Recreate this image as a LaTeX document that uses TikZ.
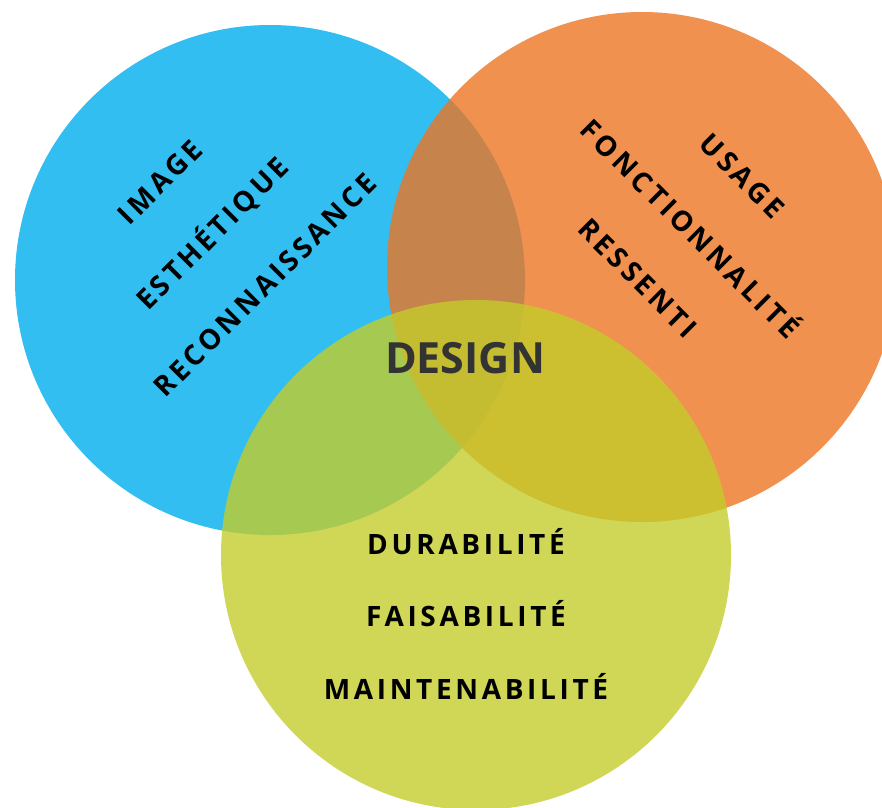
\documentclass[tikz,border=0pt]{standalone}
\usepackage{fontspec}
\setmainfont{Open Sans}
\newfontfamily\lblfont[LetterSpace=13]{Open Sans}
\definecolor{cblue}{RGB}{50,190,240}
\definecolor{corange}{RGB}{236,118,36}
\definecolor{cyellow}{RGB}{196,204,43}
\definecolor{ctitle}{RGB}{51,51,51}
\tikzset{
  venn/.style={draw=none, fill opacity=0.8},
  lbl/.style={font=\lblfont\bfseries\fontsize{28}{33}\selectfont, text=black, inner sep=0pt},
  title/.style={font=\bfseries\fontsize{43}{50}\selectfont, text=ctitle, inner sep=0pt}
}
\begin{document}
\begin{tikzpicture}[x=1pt,y=-1pt]
\useasboundingbox (0,0) rectangle (882,807);
\clip (0,0) rectangle (882,807);
\fill[cblue] (270,280) circle[radius=255];
\fill[corange, venn] (642,267) circle[radius=255];
\fill[cyellow, venn] (476,555) circle[radius=255];
% blue labels
\node[lbl, rotate=45] (image) at (160,182) {IMAGE};
\node[lbl, rotate=45] (esth) at (212,233) {ESTHÉTIQUE};
\node[lbl, rotate=45] (reco) at (265,285) {RECONNAISSANCE};
% orange labels
\node[lbl, rotate=-45] (usage) at (742,176) {USAGE};
\node[lbl, rotate=-45] (fonc) at (692,227) {FONCTIONNALITÉ};
\node[lbl, rotate=-45] (ress) at (638,278) {RESSENTI};
% yellow labels
\node[lbl] (dura) at (466,542) {DURABILITÉ};
\node[lbl] (fais) at (466,614) {FAISABILITÉ};
\node[lbl] (maint) at (466,686) {MAINTENABILITÉ};
% center
\node[title] (design) at (465,358) {DESIGN};
\end{tikzpicture}
\end{document}
